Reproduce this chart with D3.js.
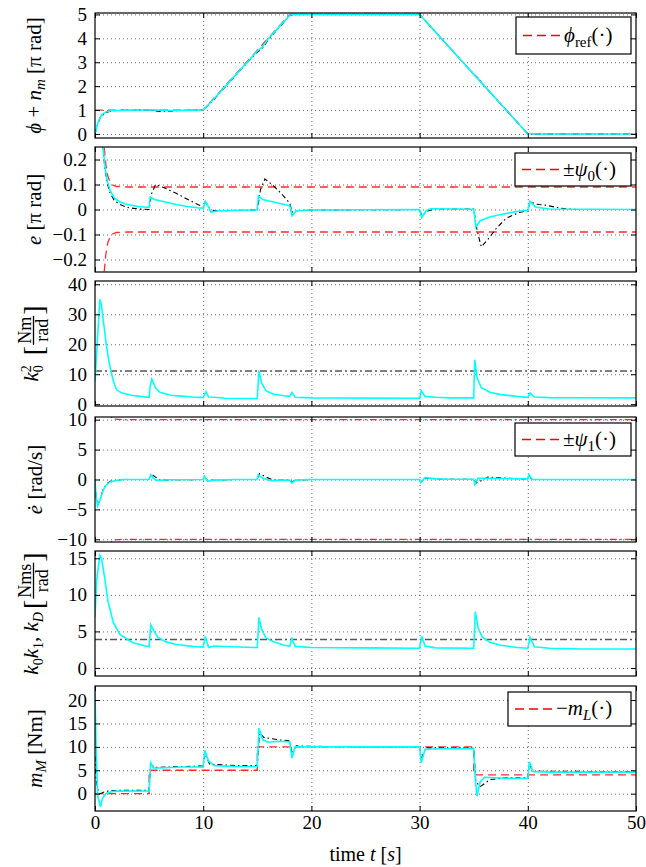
<!DOCTYPE html>
<html>
<head>
<meta charset="utf-8">
<script src="https://cdn.jsdelivr.net/npm/d3@7"></script>
<style>
  body { margin: 0; background: #fff; }
  svg text { font-family: "Liberation Serif", "DejaVu Serif", serif; }
  .grid line { stroke: #444; stroke-width: 0.8; stroke-dasharray: 1,3; }
  .grid path { display: none; }
  .tk path { display: none; }
  .tk line { stroke: #000; }
</style>
</head>
<body>
<div id="chart"></div>
<script>
// ---- data ----
var xTicks = [0, 10, 20, 30, 40, 50];

// panel 1: phi + n_m [pi rad]
var phiRef = [[0,1],[10,1],[18,5],[30,5],[40,0],[50,0]];
var phiBlack = [[0,0],[0.2,0.35],[0.5,0.7],[1,0.9],[1.5,0.96],[2,0.98],[3,0.99],[5,1],[6,0.94],[7,0.96],[8,0.98],[9,0.99],[10,1],[11,1.45],[12,1.95],[13,2.45],[14,2.95],[15,3.42],[15.5,3.6],[16,3.93],[17,4.45],[18,4.95],[18.3,5],[30,5],[31,4.5],[32,4],[33,3.5],[34,3],[35,2.5],[35.5,2.3],[36,2],[37,1.5],[38,1],[39,0.5],[40,0],[50,0]];
var phiCyan = [[0,0],[0.1,0.15],[0.3,0.5],[0.6,0.8],[1,0.92],[1.5,0.97],[2,0.98],[3,0.99],[5,1],[5.5,1],[7,0.98],[9,0.99],[10,1],[11,1.47],[12,1.97],[13,2.47],[14,2.97],[15,3.47],[15.5,3.65],[16,3.97],[17,4.47],[18,4.97],[18.2,5],[30,5],[30.3,4.85],[31,4.5],[32,4],[33,3.5],[34,3],[35,2.5],[35.5,2.25],[36,2],[37,1.5],[38,1],[39,0.5],[40,0],[40.3,0.02],[41,0],[50,0]];

// panel 2: e [pi rad], bound +-psi0
var psi0 = [[0.75,0.3],[0.85,0.25],[1.0,0.18],[1.2,0.13],[1.5,0.1],[2,0.092],[3,0.09],[50,0.09]];
var eBlack = [[0.6,0.3],[0.75,0.25],[0.9,0.17],[1.1,0.11],[1.4,0.065],[1.8,0.035],[2.3,0.02],[3,0.008],[4,0.002],[5,0],[5.2,0.06],[5.6,0.1],[6.5,0.085],[7.5,0.065],[8.5,0.042],[9.5,0.02],[10,0.01],[10.2,0.03],[10.6,0.005],[11,-0.005],[13,-0.004],[15,-0.002],[15.3,0.08],[15.7,0.122],[16.5,0.095],[17.3,0.06],[18,0.025],[18.2,-0.01],[18.6,-0.005],[20,-0.002],[30,0],[30.2,-0.025],[30.8,-0.005],[31.5,0.002],[35,0.002],[35.3,-0.08],[35.7,-0.15],[36.3,-0.12],[37.1,-0.075],[38,-0.035],[39.2,-0.012],[40,-0.005],[40.2,0.03],[41,0.02],[41.7,0.017],[43,0.005],[44.5,0],[50,0]];
var eCyan = [[0.6,0.3],[0.75,0.25],[0.9,0.18],[1.1,0.12],[1.4,0.075],[1.8,0.045],[2.3,0.03],[3,0.02],[4,0.012],[5,0.008],[5.1,0.05],[5.5,0.04],[6.5,0.03],[7.5,0.02],[8.5,0.012],[9.5,0.007],[10,0.005],[10.2,0.033],[10.5,0.01],[10.7,-0.01],[11.5,-0.005],[13,-0.003],[15,-0.002],[15.1,0.055],[15.5,0.04],[16.5,0.03],[17.5,0.02],[18,0.015],[18.2,-0.025],[18.6,-0.005],[20,-0.002],[30,0],[30.2,-0.032],[30.6,-0.005],[31,0.003],[35,0.001],[35.2,-0.07],[35.6,-0.045],[36.5,-0.03],[37.5,-0.02],[39,-0.008],[40,-0.003],[40.2,0.033],[40.7,0.01],[42,0.002],[50,0]];

// panel 3: k0^2 [Nm/rad]
var k0sqConst = [[0,11.1],[50,11.1]];
var k0sqCyan = [[0,7.5],[0.2,20],[0.45,35],[0.6,33],[0.8,27],[1.0,21],[1.3,14],[1.55,9.8],[1.8,6.5],[2,4.8],[2.5,3.7],[3.5,2.9],[5,2.3],[5.1,6],[5.25,8.4],[5.6,5.5],[6,4],[7,3],[8,2.7],[9,2.4],[10,2.2],[10.25,4.2],[10.5,2.4],[11,2.3],[12,2],[15,1.9],[15.15,11.2],[15.4,7],[15.8,4.5],[16.5,3.3],[17.5,2.8],[18,2.6],[18.2,3.9],[18.5,2.3],[20,2.1],[30,2],[30.15,4.5],[30.5,2.6],[31.5,2.3],[33,2.1],[35,2.1],[35.1,14.8],[35.3,9],[35.7,5.5],[36.5,4],[37.5,3.2],[39,2.6],[40,2.3],[40.2,3.8],[40.6,2.4],[42,2.2],[50,2.1]];

// panel 4: e dot [rad/s], bound +-psi1
var psi1 = [[1.0,12],[1.4,10.6],[1.8,10.1],[2.5,10],[50,10]];
var edBlack = [[0,0],[0.1,-3],[0.25,-4.3],[0.45,-3.4],[0.75,-1.7],[1.0,-0.9],[1.4,-0.3],[2,-0.1],[2.6,0],[5,0],[5.2,0.9],[5.6,0.4],[6,-0.1],[7,-0.05],[10,0],[10.1,0.5],[10.4,-0.2],[11,-0.1],[13,0],[15,0],[15.2,1.0],[15.8,0.4],[16.5,-0.1],[18,-0.1],[18.2,-0.4],[18.5,-0.1],[20,0],[30,0],[30.1,-0.4],[30.6,0.2],[32,0.05],[35,0.05],[35.2,-0.6],[35.6,-0.3],[36.3,0.4],[37.5,0.3],[39,0.1],[40,0.1],[40.1,0.6],[40.4,0],[42,0],[50,0]];
var edCyan = [[0,0],[0.1,-3],[0.25,-4.4],[0.45,-3.5],[0.75,-1.8],[1.0,-1.0],[1.4,-0.4],[2,-0.15],[2.6,0],[5,0],[5.15,0.8],[5.4,0.2],[5.7,-0.15],[7,-0.05],[10,0],[10.1,0.6],[10.4,-0.3],[11,-0.1],[13,0],[15,0],[15.1,0.8],[15.5,0.2],[16.3,-0.2],[17,-0.1],[18,-0.1],[18.2,-0.6],[18.5,-0.1],[20,0],[30,0],[30.1,-0.5],[30.5,0.3],[31.5,0.1],[33,0.05],[35,0.05],[35.1,-0.8],[35.4,0.2],[36.5,0.2],[38,0.15],[40,0.1],[40.1,0.8],[40.4,0],[42,0],[50,0]];

// panel 5: k0 k1, kD [Nms/rad]
var kdConst = [[0,3.9],[50,3.9]];
var kdCyan = [[0,7],[0.15,12],[0.45,15.4],[0.6,15],[0.9,12.3],[1.2,9.1],[1.7,6.2],[2.3,4.6],[3.5,3.45],[4.7,3.0],[5,2.9],[5.15,5.9],[5.4,5.2],[5.8,4.2],[6.5,3.6],[7.5,3.2],[9,2.95],[10,2.85],[10.2,4.3],[10.5,2.8],[11,3],[12.5,2.9],[15,2.8],[15.15,6.9],[15.4,5.3],[15.8,4.1],[16.5,3.6],[17.5,3.1],[18,3.0],[18.2,4.0],[18.5,2.95],[20,2.8],[25,2.75],[30,2.7],[30.2,4.35],[30.5,3.0],[31.5,2.75],[35,2.7],[35.15,7.7],[35.4,5.5],[35.8,4.2],[36.5,3.5],[37.5,3.1],[39,2.8],[40,2.7],[40.2,4.2],[40.6,2.9],[42,2.7],[45,2.6],[50,2.6]];

// panel 6: m_M [Nm], reference -m_L
var mLRef = [[0,0],[5,0],[5,5],[15,5],[15,10],[35,10],[35,4],[50,4]];
var mBlack = [[0,8],[0.1,3],[0.3,0.5],[0.5,0],[1,0.5],[2,0.7],[5,0.7],[5.15,6.3],[5.5,5.6],[8,5.8],[10,5.9],[10.15,8.6],[10.6,6.3],[13,6],[15,6],[15.2,13],[15.6,12],[17,11.5],[18,11.3],[18.2,8.5],[18.6,10.2],[20,10.1],[30,10],[30.15,7.5],[30.6,9.8],[35,9.7],[35.2,2.5],[35.6,1.5],[36.5,3],[38,3.4],[40,3.4],[40.15,6.2],[40.5,4.8],[50,4.7]];
var mCyan = [[0,22],[0.1,10],[0.25,-0.5],[0.5,-2.8],[0.7,-1],[1,0],[1.5,0.4],[2,0.55],[5,0.6],[5.15,6.6],[5.4,5.5],[6,5.5],[8,5.7],[10,5.7],[10.15,9.2],[10.5,7],[11,6],[13,5.8],[15,5.8],[15.15,14],[15.5,11.5],[16,11],[17,11.2],[18,11.1],[18.2,7.6],[18.5,10],[30,10],[30.15,6.6],[30.5,9.5],[32,9.6],[35,9.6],[35.15,3],[35.3,-0.5],[35.6,2.5],[36,3.5],[38,3.3],[40,3.3],[40.15,6.8],[40.5,4.7],[42,4.6],[50,4.6]];

// ---- layout ----
var width = 646, height = 867,
    left = 95, right = 636,
    panelH = 125,
    tickLen = 5;

var svg = d3.select("#chart").append("svg")
    .attr("width", width)
    .attr("height", height);

var x = d3.scaleLinear().domain([0, 50]).range([left, right]);

var styles = {
  red:     {stroke: "#ff2b2b", width: 1.3, dash: "8,5"},
  redDD:   {stroke: "#ff2b2b", width: 1.3, dash: "7,3,2,3"},
  black:   {stroke: "#000",    width: 1.1, dash: "5,3,1.5,3"},
  gray:    {stroke: "#555",    width: 1.5, dash: "7,3,2,3"},
  cyan:    {stroke: "#00ffff", width: 1.6, dash: null}
};

function neg(arr) { return arr.map(d => [d[0], -d[1]]); }

var panels = [
  {top: 13,  domain: [-0.17, 5.06], ticks: [0,1,2,3,4,5],
   series: [[phiRef,"red"],[phiBlack,"black"],[phiCyan,"cyan"]]},
  {top: 147, domain: [-0.25, 0.25], ticks: [-0.2,-0.1,0,0.1,0.2],
   series: [[psi0,"red"],[neg(psi0),"red"],[eBlack,"black"],[eCyan,"cyan"]]},
  {top: 281, domain: [-0.6, 41.1], ticks: [0,10,20,30,40],
   series: [[k0sqConst,"gray"],[k0sqCyan,"cyan"]]},
  {top: 417, domain: [-10.45, 10.45], ticks: [-10,-5,0,5,10],
   series: [[psi1,"redDD"],[neg(psi1),"redDD"],[edBlack,"black"],[edCyan,"cyan"]]},
  {top: 551, domain: [-1.1, 16], ticks: [0,5,10,15],
   series: [[kdConst,"gray"],[kdCyan,"cyan"]]},
  {top: 686, domain: [-3.7, 23], ticks: [0,5,10,15,20],
   series: [[mLRef,"red"],[mBlack,"black"],[mCyan,"cyan"]]}
];

panels.forEach(function(p, i) {
  var y = d3.scaleLinear().domain(p.domain).range([p.top + panelH, p.top]);
  var bottom = p.top + panelH;

  svg.append("clipPath").attr("id", "clip" + i)
    .append("rect").attr("x", left).attr("y", p.top)
    .attr("width", right - left).attr("height", panelH);

  // grid
  svg.append("g").attr("class", "grid")
    .attr("transform", `translate(${left},0)`)
    .call(d3.axisLeft(y).tickValues(p.ticks).tickSize(-(right - left)).tickFormat(""));
  svg.append("g").attr("class", "grid")
    .attr("transform", `translate(0,${bottom})`)
    .call(d3.axisBottom(x).tickValues(xTicks.slice(1, -1)).tickSize(-panelH).tickFormat(""));

  // lines
  var line = d3.line().x(d => x(d[0])).y(d => y(d[1]));
  var lg = svg.append("g").attr("clip-path", `url(#clip${i})`);
  p.series.forEach(function(s) {
    var st = styles[s[1]];
    lg.append("path")
      .datum(s[0])
      .attr("d", line)
      .attr("fill", "none")
      .attr("stroke", st.stroke)
      .attr("stroke-width", st.width)
      .attr("stroke-dasharray", st.dash);
  });

  // ticks, all inward
  var yl = svg.append("g").attr("class", "tk")
    .attr("transform", `translate(${left},0)`)
    .call(d3.axisLeft(y).tickValues(p.ticks).tickSize(-tickLen).tickPadding(8).tickFormat(d3.format("")));
  yl.attr("font-family", null).attr("font-size", 19);
  yl.selectAll("text").attr("fill", "#000");
  svg.append("g").attr("class", "tk")
    .attr("transform", `translate(${right},0)`)
    .call(d3.axisRight(y).tickValues(p.ticks).tickSize(-tickLen).tickFormat(""));
  var xb = svg.append("g").attr("class", "tk")
    .attr("transform", `translate(0,${bottom})`)
    .call(d3.axisBottom(x).tickValues(xTicks).tickSize(-tickLen).tickPadding(5)
      .tickFormat(i === panels.length - 1 ? d3.format("") : ""));
  xb.attr("font-family", null).attr("font-size", 19);
  xb.selectAll("text").attr("fill", "#000");
  svg.append("g").attr("class", "tk")
    .attr("transform", `translate(0,${p.top})`)
    .call(d3.axisTop(x).tickValues(xTicks).tickSize(-tickLen).tickFormat(""));

  // frame
  svg.append("rect")
    .attr("x", left).attr("y", p.top)
    .attr("width", right - left).attr("height", panelH)
    .attr("fill", "none").attr("stroke", "#000").attr("stroke-width", 1.2);
});

// ---- y labels ----
var labelSize = 21;
function rotText(cx, cy) {
  return svg.append("text")
    .attr("transform", `translate(${cx},${cy}) rotate(-90)`)
    .attr("text-anchor", "middle")
    .attr("font-size", labelSize);
}
function add(t, s, opt) {
  opt = opt || {};
  var ts = t.append("tspan").text(s);
  if (opt.it) ts.attr("font-style", "italic");
  if (opt.dy) ts.attr("dy", opt.dy);
  if (opt.fs) ts.attr("font-size", opt.fs);
  return ts;
}
function mid(i) { return panels[i].top + panelH / 2; }

var t1 = rotText(41, mid(0));
add(t1, "ϕ", {it: 1}); add(t1, " + "); add(t1, "n", {it: 1});
add(t1, "m", {it: 1, dy: 4, fs: 15}); add(t1, " [π rad]", {dy: -4});

var t2 = rotText(41, mid(1));
add(t2, "e", {it: 1}); add(t2, " [π rad]");

var t4 = rotText(42, mid(3));
add(t4, "ė", {it: 1}); add(t4, " [rad/s]");

var t6 = rotText(42, mid(5));
add(t6, "m", {it: 1}); add(t6, "M", {it: 1, dy: 4, fs: 15}); add(t6, " [Nm]", {dy: -4});

// labels with a fraction unit
function fracLabel(cx, cy, build, num, den) {
  var g = svg.append("g").attr("transform", `translate(${cx},${cy}) rotate(-90)`);
  var inner = g.append("g");
  var a = inner.append("text").attr("x", 0).attr("y", 0).attr("font-size", labelSize);
  build(a);
  var w1 = a.node().getComputedTextLength();
  var br1 = inner.append("text").attr("x", w1 + 3).attr("y", 5).attr("font-size", 28).text("[");
  var wb = br1.node().getComputedTextLength();
  var fx = w1 + 3 + wb + 1;
  var nt = inner.append("text").attr("y", -7).attr("font-size", 18).attr("text-anchor", "middle").text(num);
  var dt = inner.append("text").attr("y", 10).attr("font-size", 18).attr("text-anchor", "middle").text(den);
  var fw = Math.max(nt.node().getComputedTextLength(), dt.node().getComputedTextLength()) + 2;
  nt.attr("x", fx + fw / 2); dt.attr("x", fx + fw / 2);
  inner.append("line").attr("x1", fx).attr("x2", fx + fw)
    .attr("y1", -4.5).attr("y2", -4.5).attr("stroke", "#000").attr("stroke-width", 1.3);
  var br2 = inner.append("text").attr("x", fx + fw + 1).attr("y", 5).attr("font-size", 28).text("]");
  var total = fx + fw + 1 + br2.node().getComputedTextLength();
  inner.attr("transform", `translate(${-total / 2},0)`);
}

fracLabel(38, mid(2), function(t) {
  add(t, "k", {it: 1}); add(t, "2", {dy: -7, fs: 14});
  t.append("tspan").attr("dx", -7).attr("dy", 12).attr("font-size", 14).text("0");
  t.append("tspan").attr("dy", -5).text("");
}, "Nm", "rad");

fracLabel(38, mid(4), function(t) {
  add(t, "k", {it: 1}); add(t, "0", {dy: 5, fs: 14}); add(t, "k", {it: 1, dy: -5});
  add(t, "1", {dy: 5, fs: 14}); add(t, ", ", {dy: -5}); add(t, "k", {it: 1});
  add(t, "D", {it: 1, dy: 5, fs: 14}); add(t, "", {dy: -5});
}, "Nms", "rad");

// x label
var xl = svg.append("text")
  .attr("x", (left + right) / 2).attr("y", 861)
  .attr("text-anchor", "middle").attr("font-size", 20);
add(xl, "time "); add(xl, "t", {it: 1}); add(xl, " ["); add(xl, "s", {it: 1}); add(xl, "]");

// ---- legends ----
var legends = [
  {x0: 516, y0: 17, w: 115, h: 37, text: function(t) {
    add(t, "ϕ", {it: 1}); add(t, "ref", {dy: 5, fs: 15}); add(t, "(·)", {dy: -5}); }},
  {x0: 515, y0: 153, w: 116, h: 33, text: function(t) {
    add(t, "±"); add(t, "ψ", {it: 1}); add(t, "0", {dy: 5, fs: 15}); add(t, "(·)", {dy: -5}); }},
  {x0: 515, y0: 423, w: 116, h: 33, text: function(t) {
    add(t, "±"); add(t, "ψ", {it: 1}); add(t, "1", {dy: 5, fs: 15}); add(t, "(·)", {dy: -5}); }},
  {x0: 508, y0: 692, w: 123, h: 34, text: function(t) {
    add(t, "−"); add(t, "m", {it: 1}); add(t, "L", {it: 1, dy: 5, fs: 15}); add(t, "(·)", {dy: -5}); }}
];

legends.forEach(function(l) {
  var g = svg.append("g");
  g.append("rect").attr("x", l.x0).attr("y", l.y0).attr("width", l.w).attr("height", l.h)
    .attr("fill", "#fff").attr("stroke", "#000").attr("stroke-width", 1.2);
  var cy = l.y0 + l.h / 2;
  g.append("line").attr("x1", l.x0 + 7).attr("x2", l.x0 + 46).attr("y1", cy).attr("y2", cy)
    .attr("stroke", "#ff0000").attr("stroke-width", 1.3).attr("stroke-dasharray", "9,5");
  var t = g.append("text").attr("x", l.x0 + 48).attr("y", cy + 6).attr("font-size", 21);
  l.text(t);
});
</script>
</body>
</html>
